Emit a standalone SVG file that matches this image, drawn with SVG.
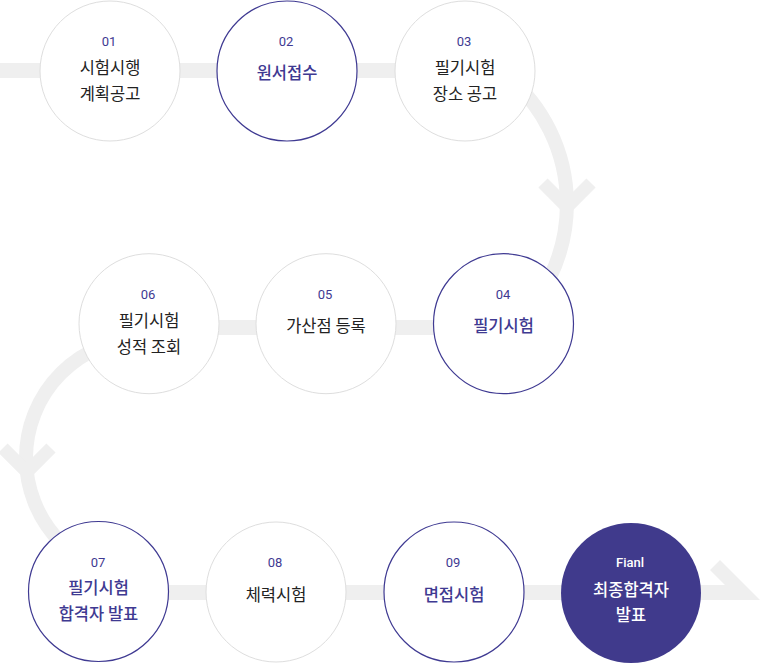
<svg xmlns="http://www.w3.org/2000/svg" width="760" height="663" viewBox="0 0 760 663">
<style>
.track{fill:#efefef;stroke:none}
.arc{fill:none;stroke:#efefef;stroke-width:14}
.chev{fill:none;stroke:#efefef;stroke-width:13;stroke-linejoin:miter}
.c-gray{fill:#fff;stroke:#dedede;stroke-width:1}
.c-purple{fill:#fff;stroke:#3f3a92;stroke-width:1.2}
.c-final{fill:#403a8c;stroke:none}
.num{font-family:Roboto,"Noto Sans",sans-serif;font-size:13px;fill:#3f3a92;text-anchor:middle}
.num-w{font-family:Roboto,"Noto Sans",sans-serif;font-size:13px;fill:#fff;font-weight:500;text-anchor:middle}
.lbl{font-family:"Noto Sans CJK KR","Noto Sans",sans-serif;font-size:16.5px;fill:#222;text-anchor:middle}
.lbl-p{font-family:"Noto Sans CJK KR","Noto Sans",sans-serif;font-size:16.5px;fill:#3f3a92;font-weight:500;text-anchor:middle}
.lbl-w{font-family:"Noto Sans CJK KR","Noto Sans",sans-serif;font-size:16.5px;fill:#fff;font-weight:500;text-anchor:middle}
</style>
<g id="connectors">
<rect class="track" x="0" y="63" width="465" height="15"/>
<path class="arc" d="M507.3,76.1 A167,167 0 0 1 507.3,331.9"/>
<polyline class="chev" points="543,183 567,207 591,183"/>
<rect class="track" x="149" y="320" width="355" height="15"/>
<path class="arc" d="M146,338 A120,120 0 0 0 146,578"/>
<polyline class="chev" points="3,448 27,472 51,448"/>
<polygon class="track" points="98,585 725,585 710,570 720,560 760,600 98,600"/>
</g>
<g id="step01">
<circle class="c-gray" cx="110" cy="71" r="70"/>
<text class="num" x="109" y="46">01</text>
<text class="lbl" x="110" y="74">시험시행</text>
<text class="lbl" x="110" y="100">계획공고</text>
</g>
<g id="step02">
<circle class="c-purple" cx="287" cy="71" r="70"/>
<text class="num" x="286" y="46">02</text>
<text class="lbl-p" x="287" y="79">원서접수</text>
</g>
<g id="step03">
<circle class="c-gray" cx="465" cy="71" r="70"/>
<text class="num" x="464" y="46">03</text>
<text class="lbl" x="465" y="74">필기시험</text>
<text class="lbl" x="465" y="100">장소 공고</text>
</g>
<g id="step04">
<circle class="c-purple" cx="503.5" cy="323.7" r="70"/>
<text class="num" x="503" y="299">04</text>
<text class="lbl-p" x="503.5" y="332">필기시험</text>
</g>
<g id="step05">
<circle class="c-gray" cx="326" cy="323.7" r="70"/>
<text class="num" x="325" y="299">05</text>
<text class="lbl" x="326" y="332">가산점 등록</text>
</g>
<g id="step06">
<circle class="c-gray" cx="149" cy="323.7" r="70"/>
<text class="num" x="148" y="299">06</text>
<text class="lbl" x="149" y="327">필기시험</text>
<text class="lbl" x="149" y="353">성적 조회</text>
</g>
<g id="step07">
<circle class="c-purple" cx="98.5" cy="591.5" r="70"/>
<text class="num" x="98" y="567">07</text>
<text class="lbl-p" x="98.5" y="594">필기시험</text>
<text class="lbl-p" x="98.5" y="620">합격자 발표</text>
</g>
<g id="step08">
<circle class="c-gray" cx="276" cy="592" r="70"/>
<text class="num" x="275" y="567">08</text>
<text class="lbl" x="276" y="601">체력시험</text>
</g>
<g id="step09">
<circle class="c-purple" cx="454" cy="592" r="70"/>
<text class="num" x="453" y="567">09</text>
<text class="lbl-p" x="454" y="601">면접시험</text>
</g>
<g id="final">
<circle class="c-final" cx="631" cy="593" r="70"/>
<text class="num-w" x="630" y="567">Fianl</text>
<text class="lbl-w" x="631" y="596">최종합격자</text>
<text class="lbl-w" x="631" y="621">발표</text>
</g>
</svg>
